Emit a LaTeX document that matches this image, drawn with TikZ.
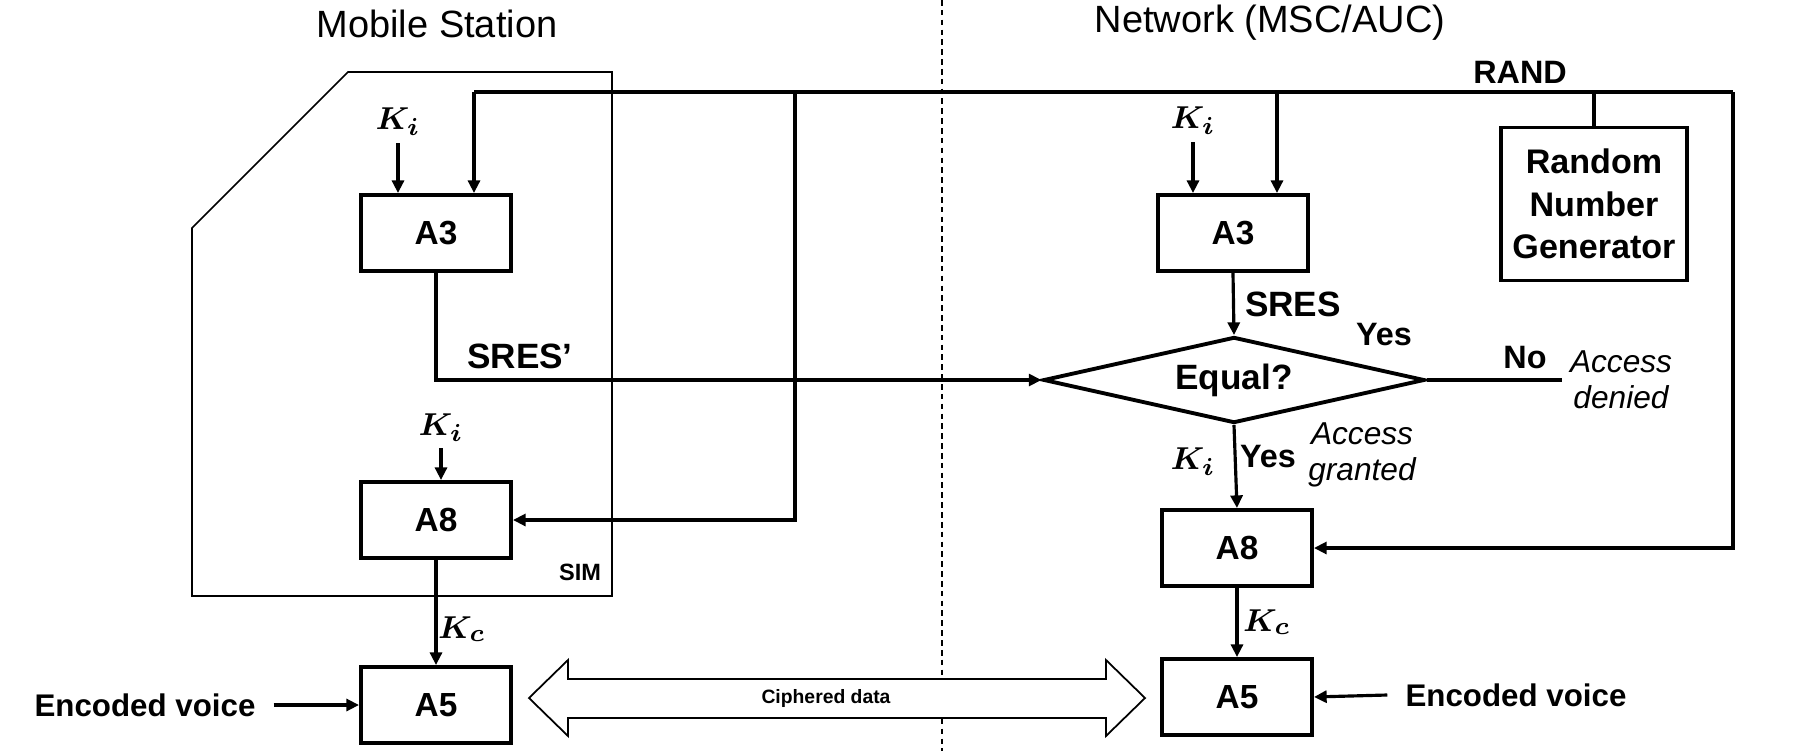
\documentclass[tikz,border=0pt]{standalone}
\usepackage{fontspec}
\setmainfont{Liberation Sans}
\usetikzlibrary{arrows.meta,shapes.geometric}

\begin{document}
\begin{tikzpicture}[x=0.01cm,y=-0.01cm,
  alg/.style={draw,line width=1.1pt,minimum width=1.5cm,minimum height=0.76cm,inner sep=0pt,font=\fontsize{9.5}{10}\selectfont\bfseries},
  title/.style={font=\fontsize{10.8}{12}\selectfont,inner sep=1pt},
  lbl/.style={font=\fontsize{10}{11}\selectfont\bfseries,inner sep=1pt},
  small/.style={font=\fontsize{9.2}{10}\selectfont\bfseries,inner sep=1pt},
  voice/.style={font=\fontsize{8.9}{10}\selectfont\bfseries,inner sep=1pt},
  note/.style={font=\fontsize{9}{10.2}\selectfont\itshape,align=center,inner sep=0pt},
  key/.style={font=\fontsize{9.5}{10}\selectfont\boldmath,inner sep=0pt},
  wire/.style={line width=0.9pt},
  arr/.style={wire,-{Triangle[length=3.6pt,width=3.4pt]}}]
  \useasboundingbox (0,0) rectangle (1811,751);

  \node[title] (msTitle) at (437,24) {Mobile Station};
  \node[title] (nwTitle) at (1270,23) {Network (MSC/AUC)};
  \draw[line width=0.4pt,dash pattern=on 1.6pt off 1.2pt] (942,0) -- (942,751);

  % SIM card
  \draw[line width=0.5pt] (348,72) -- (612,72) -- (612,596) -- (192,596) -- (192,228) -- cycle;
  \node[font=\fontsize{6.7}{8}\selectfont\bfseries] (sim) at (580,572) {SIM};

  \node[alg] (a3ms) at (436,233) {A3};
  \node[alg] (a8ms) at (436,520) {A8};
  \node[alg] (a5ms) at (436,705) {A5};
  \node[alg] (a3nw) at (1233,233) {A3};
  \node[alg] (a8nw) at (1237,548) {A8};
  \node[alg] (a5nw) at (1237,697) {A5};
  \node[draw,line width=1.1pt,minimum width=1.86cm,minimum height=1.53cm,inner sep=0pt,align=center,
        font=\fontsize{9.7}{12}\selectfont\bfseries] (rng) at (1594,204) {Random\\Number\\Generator};
  \node[draw,diamond,line width=1.1pt,minimum width=3.81cm,minimum height=0.86cm,inner sep=0pt,aspect=4.4,
        font=\fontsize{10}{11}\selectfont\bfseries] (eq) at (1234,380) {Equal?};

  \node[key] (kiA3ms) at (398,122) {$K_i$};
  \node[key] (kiA8ms) at (441,428) {$K_i$};
  \node[key] (kcMS) at (462,629) {$K_c$};
  \node[key] (kiA3nw) at (1193,121) {$K_i$};
  \node[key] (kiA8nw) at (1193,462) {$K_i$};
  \node[key] (kcNW) at (1267,622) {$K_c$};

  \node[small] (rand) at (1520,72) {RAND};
  \node[lbl] (sresMS) at (520,356) {SRES’};
  \node[lbl] (sresNW) at (1293,304) {SRES};
  \node[small] (yesTop) at (1384,335) {Yes};
  \node[small] (no) at (1525,358) {No};
  \node[note] (denied) at (1621,380) {Access\\denied};
  \node[small] (yesLow) at (1268,457) {Yes};
  \node[note] (granted) at (1362,455) {Access\\granted};
  \node[voice] (evMS) at (145,705) {Encoded voice};
  \node[voice] (evNW) at (1516,695) {Encoded voice};

  % RAND bus
  \coordinate (randL) at (474,92);
  \coordinate (randR) at (1733,92);
  \coordinate (brMS) at (795,92);
  \coordinate (brNW) at (1277,92);
  \coordinate (noEnd) at (1562,380);
  \draw[wire] (randL) -- (randR);
  \draw[wire] (rng.north) -- (rng.north |- randR);
  \draw[arr] (randL) -- (randL |- a3ms.north);
  \draw[arr] (brMS) |- (a8ms.east);
  \draw[arr] (brNW) -- (brNW |- a3nw.north);
  \draw[arr] (randR) |- (a8nw.east);

  \draw[arr] (kiA3ms.south) ++(0,7) -- (kiA3ms.south |- a3ms.north);
  \draw[arr] (kiA8ms.south) ++(0,6) -- (kiA8ms.south |- a8ms.north);
  \draw[arr] (kiA3nw.south) ++(0,7) -- (kiA3nw.south |- a3nw.north);
  \draw[arr] (a3ms.south) |- (eq.west);
  \draw[arr] (a3nw.south) -- (eq.north);
  \draw[wire] (eq.east) -- (noEnd);
  \draw[arr] (eq.south) -- (a8nw.north);
  \draw[arr] (a8ms.south) -- (a5ms.north);
  \draw[arr] (a8nw.south) -- (a5nw.north);
  \draw[arr] ([xshift=4pt]evMS.east) -- (a5ms.west);
  \draw[arr] ([xshift=-4pt]evNW.west) -- (a5nw.east);

  % ciphered link
  \draw[line width=0.5pt,fill=white] (529,698) -- (568,660) -- (568,679) -- (1106,679) -- (1106,660) -- (1145,698)
    -- (1106,736) -- (1106,718) -- (568,718) -- (568,736) -- cycle;
  \node[font=\fontsize{5.5}{6}\selectfont\bfseries] (ciph) at (826,698) {Ciphered data};
\end{tikzpicture}
\end{document}
